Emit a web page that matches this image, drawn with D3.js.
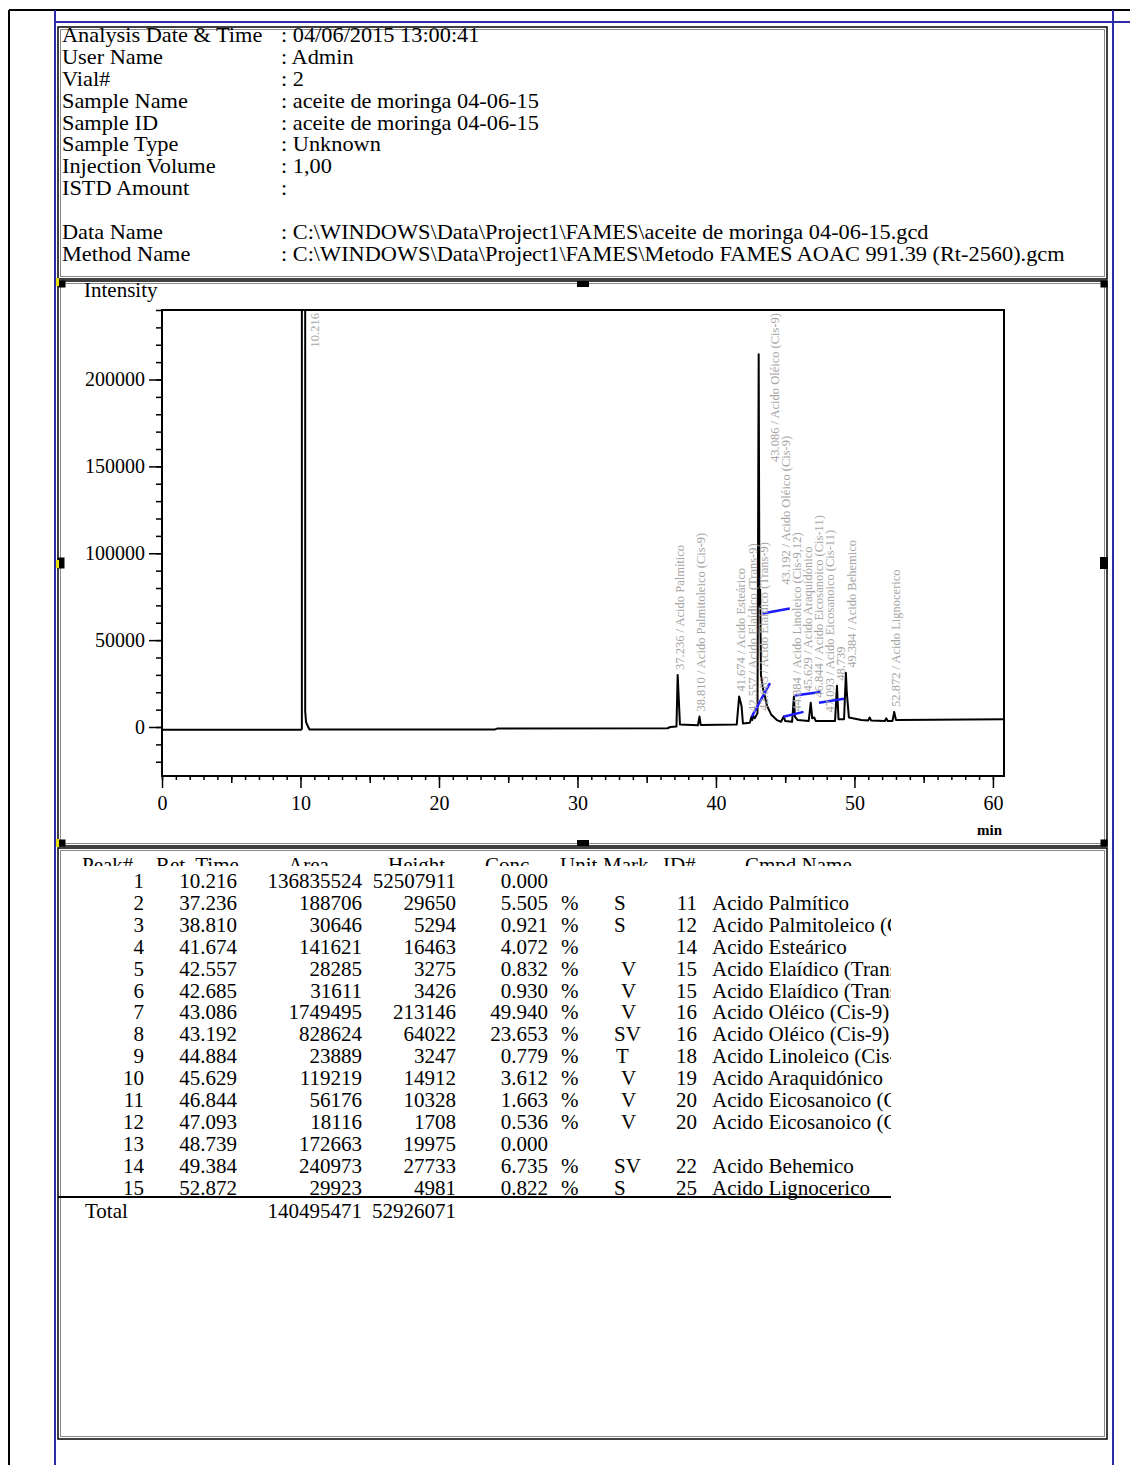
<!DOCTYPE html>
<html><head><meta charset="utf-8">
<script src="https://cdn.jsdelivr.net/npm/d3@7"></script>
<style>
body{margin:0;background:#fff}
svg{display:block}
text{font-family:"Liberation Serif","Times New Roman",serif;fill:#000}
</style>
</head><body>
<svg id="c" width="1130" height="1465"></svg>
<script>
// ---------- header ----------
const headerLabels = ["Analysis Date & Time","User Name","Vial#","Sample Name","Sample ID","Sample Type","Injection Volume","ISTD Amount","","Data Name","Method Name"];
const headerValues = ["04/06/2015 13:00:41","Admin","2","aceite de moringa 04-06-15","aceite de moringa 04-06-15","Unknown","1,00","",null,
  "C:\\WINDOWS\\Data\\Project1\\FAMES\\aceite de moringa 04-06-15.gcd",
  "C:\\WINDOWS\\Data\\Project1\\FAMES\\Metodo FAMES AOAC 991.39 (Rt-2560).gcm"];

// ---------- chromatogram trace (min, intensity) ----------
const traceTime = [0,10.05,10.1,10.216,10.34,10.4,10.5,10.65,24.0,24.2,36.5,36.7,37.15,37.236,37.3,37.4,38.7,38.81,38.9,41.5,41.674,41.85,41.95,42.45,42.557,42.62,42.685,42.8,43.0,43.086,43.14,43.192,43.25,43.4,43.7,44.0,44.4,44.7,44.884,45.0,45.5,45.629,45.7,45.9,46.7,46.844,46.95,47.093,47.2,48.6,48.739,48.85,49.25,49.384,49.45,49.6,50.5,51.0,51.1,51.2,52.2,52.3,52.4,52.75,52.872,53.0,60.8];
const traceIntensity = [-1600,-1600,-1000,52507911,9000,3000,1000,-1400,-1500,-900,-700,0,300,30000,19000,1500,1000,6000,1200,1400,17500,12000,2000,2500,5800,4000,6500,5000,8000,214500,70000,79000,30000,22000,12000,7000,4000,3000,6000,3500,3000,17500,6000,4000,3500,14000,5000,5500,3500,3500,23700,4500,4500,31200,19600,5500,4000,3800,5500,3800,3500,5000,3500,3500,8700,4000,4500];

// ---------- integration baselines (blue) ----------
const blTime = [[42.58,43.90],[43.36,45.33],[44.87,46.32],[45.70,47.56],[47.44,49.25]];
const blIntensity = [[5900,25300],[65300,68200],[5900,8700],[18100,20100],[14000,16200]];

// ---------- axes ticks ----------
const xMajorTicks = [0,10,20,30,40,50,60];
const yMajorTicks = [0,50000,100000,150000,200000];

// ---------- peak table ----------
const peakNo = [1,2,3,4,5,6,7,8,9,10,11,12,13,14,15];
const retTimes = [10.216,37.236,38.810,41.674,42.557,42.685,43.086,43.192,44.884,45.629,46.844,47.093,48.739,49.384,52.872];
const areas = [136835524,188706,30646,141621,28285,31611,1749495,828624,23889,119219,56176,18116,172663,240973,29923];
const heights = [52507911,29650,5294,16463,3275,3426,213146,64022,3247,14912,10328,1708,19975,27733,4981];
const concs = [0,5.505,0.921,4.072,0.832,0.930,49.940,23.653,0.779,3.612,1.663,0.536,0,6.735,0.822];
const units = ["","%","%","%","%","%","%","%","%","%","%","%","","%","%"];
const marks = ["","S","S","","V","V","V","SV","T","V","V","V","","SV","S"];
const idNos = ["","11","12","14","15","15","16","16","18","19","20","20","","22","25"];
const cmpdNames = ["","Acido Palmítico","Acido Palmitoleico (Cis-9)","Acido Esteárico","Acido Elaídico (Trans-9)","Acido Elaídico (Trans-9)","Acido Oléico (Cis-9)","Acido Oléico (Cis-9)","Acido Linoleico (Cis-9,12)","Acido Araquidónico","Acido Eicosanoico (Cis-11)","Acido Eicosanoico (Cis-11)","","Acido Behemico","Acido Lignocerico"];
const tableHeaders = ["Peak#","Ret. Time","Area","Height","Conc.","Unit","Mark","ID#","Cmpd Name"];
const totalArea = 140495471, totalHeight = 52926071;

const svg = d3.select("#c");
const defs = svg.append("defs");

// ---------- page frame lines ----------
svg.append("line").attr("x1",9).attr("x2",1130).attr("y1",10).attr("y2",10).attr("stroke","#000").attr("stroke-width",2);
svg.append("line").attr("x1",9).attr("x2",9).attr("y1",10).attr("y2",1465).attr("stroke","#000").attr("stroke-width",2);
const blue = "#2b2ba6";
svg.append("line").attr("x1",55).attr("x2",1130).attr("y1",22).attr("y2",22).attr("stroke",blue).attr("stroke-width",2);
svg.append("line").attr("x1",55).attr("x2",55).attr("y1",10).attr("y2",1465).attr("stroke",blue).attr("stroke-width",2);
svg.append("line").attr("x1",1113).attr("x2",1113).attr("y1",10).attr("y2",1465).attr("stroke",blue).attr("stroke-width",2);

function box(x0,y0,x1,y1){
  svg.append("rect").attr("x",x0).attr("y",y0).attr("width",x1-x0).attr("height",y1-y0)
    .attr("fill","none").attr("stroke","#000").attr("stroke-width",1.5);
  svg.append("rect").attr("x",x0+2.5).attr("y",y0+2.5).attr("width",x1-x0-5).attr("height",y1-y0-5)
    .attr("fill","none").attr("stroke","#8a8a8a").attr("stroke-width",1);
}
box(58,27,1107,279);
box(58,281,1107,846);
box(58,848,1107,1439);

// ---------- header text ----------
const sx = 1.117;
const hdr = svg.append("g").attr("transform",`scale(${sx},1)`).style("font-size","20px");
headerLabels.forEach((t,i)=>{
  const yb = 42 + i*21.9;
  hdr.append("text").attr("x",62/sx).attr("y",yb).text(t);
  if(headerValues[i]!==null) hdr.append("text").attr("x",281/sx).attr("y",yb).text(": "+headerValues[i]);
});

// ---------- chart ----------
const plotL=162, plotR=1004, plotT=310, plotB=776;
const x = d3.scaleLinear().domain([0,60.8]).range([plotL,plotR]);
const y = d3.scaleLinear().domain([-28200,240000]).range([plotB,plotT]);

defs.append("clipPath").attr("id","pc")
  .append("rect").attr("x",plotL).attr("y",plotT).attr("width",plotR-plotL).attr("height",plotB-plotT);

// y axis
const ya = svg.append("g").attr("transform",`translate(${plotL},0)`);
ya.call(d3.axisLeft(y).tickValues(d3.range(-20000,240001,10000)).tickSize(6).tickFormat(""));
const ya2 = svg.append("g").attr("transform",`translate(${plotL},0)`);
ya2.call(d3.axisLeft(y).tickValues(yMajorTicks).tickSize(13).tickPadding(4).tickFormat(d3.format("d")));
ya2.selectAll("text").style("font-size","20px").style("font-family","Liberation Serif");
// x axis
const xa = svg.append("g").attr("transform",`translate(0,${plotB})`);
xa.call(d3.axisBottom(x).tickValues(d3.range(0,61,1)).tickSize(4).tickFormat(""));
const xa1 = svg.append("g").attr("transform",`translate(0,${plotB})`);
xa1.call(d3.axisBottom(x).tickValues(d3.range(5,60,10)).tickSize(7).tickFormat(""));
const xa2 = svg.append("g").attr("transform",`translate(0,${plotB})`);
xa2.call(d3.axisBottom(x).tickValues(xMajorTicks).tickSize(12).tickPadding(8).tickFormat(d3.format("d")));
xa2.selectAll("text").style("font-size","20px").style("font-family","Liberation Serif");
[ya,ya2,xa,xa1,xa2].forEach(g=>{g.select(".domain").remove(); g.selectAll("line").attr("stroke","#000").attr("stroke-width",1.5);});

// plot frame
svg.append("rect").attr("x",plotL).attr("y",plotT).attr("width",plotR-plotL).attr("height",plotB-plotT)
  .attr("fill","none").attr("stroke","#000").attr("stroke-width",2);

svg.append("text").attr("x",84).attr("y",297).style("font-size","21px").text("Intensity");
svg.append("text").attr("x",977).attr("y",835).style("font-size","15px").style("font-weight","bold").text("min");

const pg = svg.append("g").attr("clip-path","url(#pc)");
const trace = traceTime.map((t,i)=>[t,traceIntensity[i]]);
pg.append("path").datum(trace)
  .attr("d",d3.line().x(d=>x(d[0])).y(d=>y(d[1])))
  .attr("fill","none").attr("stroke","#000").attr("stroke-width",2).attr("stroke-linejoin","round");

blTime.forEach((tt,i)=>{
  pg.append("line").attr("x1",x(tt[0])).attr("x2",x(tt[1]))
    .attr("y1",y(blIntensity[i][0])).attr("y2",y(blIntensity[i][1]))
    .attr("stroke","#1a1aff").attr("stroke-width",2.5);
});

// peak labels
const lg = svg.append("g").style("font-size","12.5px");
let prevX = -1e9;
retTimes.forEach((rt,i)=>{
  const lbl = cmpdNames[i] ? rt.toFixed(3)+" / "+cmpdNames[i] : rt.toFixed(3);
  let apex = -Infinity;
  trace.forEach(p=>{ if(Math.abs(p[0]-rt)<0.04) apex=Math.max(apex,p[1]); });
  const offScale = y(apex) < plotT;
  const lx = Math.max(x(rt)+(offScale?12:2), prevX+11);
  prevX = lx;
  const t = lg.append("text").text(lbl).style("fill","#a5a5a5");
  const len = t.node().getComputedTextLength();
  let bottom = y(apex) - 5;
  if(bottom - len < plotT + 3) bottom = plotT + 3 + len;
  t.attr("transform",`translate(${lx+4},${bottom}) rotate(-90)`);
});

// handles
const hs = [[62,284,7,7],[583,284,12,6],[1104,284,7,7],[61,563,7,11],[1104,563,8,12],[62,843,7,7],[583,843,12,6],[1104,843,7,7]];
hs.forEach(h=>svg.append("rect").attr("x",h[0]-h[2]/2).attr("y",h[1]-h[3]/2).attr("width",h[2]).attr("height",h[3]).attr("fill","#000"));
[[56,278],[56,560],[56,839]].forEach(p=>svg.append("rect").attr("x",p[0]).attr("y",p[1]).attr("width",3).attr("height",8).attr("fill","#e8e000"));

// ---------- table ----------
const tb = svg.append("g").style("font-size","21px");
defs.append("clipPath").attr("id","hc").append("rect").attr("x",58).attr("y",848).attr("width",1049).attr("height",18);
defs.append("clipPath").attr("id","nc").append("rect").attr("x",58).attr("y",848).attr("width",833).attr("height",600);
const th = tb.append("g").attr("clip-path","url(#hc)");
const hdrX = [82,156,288,388,485,560,603,663,745];
tableHeaders.forEach((h,i)=>th.append("text").attr("x",hdrX[i]).attr("y",872).text(h));
const rowY = i => 888 + i*21.9;
const colR = {no:144, rt:237, area:362, h:456, conc:548};
const R = (v,xx,yy)=>tb.append("text").attr("x",xx).attr("y",yy).attr("text-anchor","end").text(v);
const markX = {"S":614,"V":621,"SV":614,"T":616};
peakNo.forEach((p,i)=>{
  const yy = rowY(i);
  R(p,colR.no,yy);
  R(retTimes[i].toFixed(3),colR.rt,yy);
  R(areas[i],colR.area,yy);
  R(heights[i],colR.h,yy);
  R(concs[i].toFixed(3),colR.conc,yy);
  tb.append("text").attr("x",561).attr("y",yy).text(units[i]);
  if(marks[i]) tb.append("text").attr("x",markX[marks[i]]).attr("y",yy).text(marks[i]);
  R(idNos[i],697,yy);
  tb.append("text").attr("x",712).attr("y",yy).attr("clip-path","url(#nc)").text(cmpdNames[i]);
});
svg.append("line").attr("x1",58).attr("x2",891).attr("y1",1197).attr("y2",1197).attr("stroke","#000").attr("stroke-width",2);
tb.append("text").attr("x",85).attr("y",1218).text("Total");
R(totalArea,colR.area,1218);
R(totalHeight,colR.h,1218);
</script>
</body></html>
